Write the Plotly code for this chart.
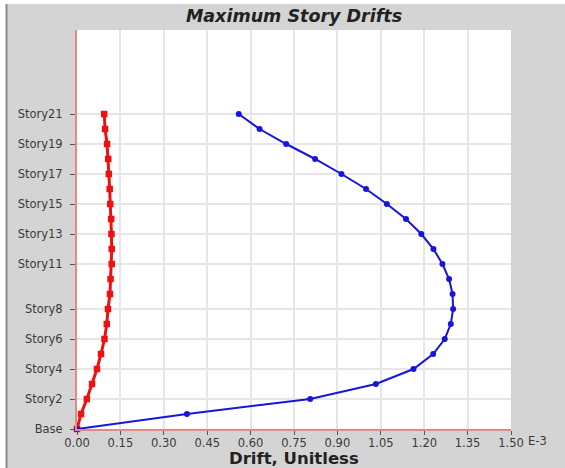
import plotly.graph_objects as go

stories = list(range(0, 22))  # 0 = Base, 1..21 = Story1..Story21
tick_vals = [0, 2, 4, 6, 8, 11, 13, 15, 17, 19, 21]
tick_text = ["Base", "Story2", "Story4", "Story6", "Story8", "Story11",
             "Story13", "Story15", "Story17", "Story19", "Story21"]

drift_red = [0.0, 0.014, 0.034, 0.052, 0.069, 0.083, 0.095, 0.103, 0.107, 0.114,
             0.116, 0.120, 0.120, 0.119, 0.118, 0.115, 0.113, 0.110, 0.108,
             0.104, 0.097, 0.094]
drift_blue = [0.0, 0.380, 0.806, 1.033, 1.163, 1.231, 1.271, 1.292, 1.300, 1.298,
              1.286, 1.263, 1.232, 1.190, 1.137, 1.071, 0.999, 0.914, 0.823,
              0.723, 0.631, 0.559]

x_ticks = [0.0, 0.15, 0.30, 0.45, 0.60, 0.75, 0.90, 1.05, 1.20, 1.35, 1.50]
x_tick_text = ["%.2f" % v for v in x_ticks]
x_title = "Drift, Unitless"
x_unit = "E-3"

fig = go.Figure()
fig.add_trace(go.Scatter(
    x=drift_red, y=stories, mode="lines+markers",
    line=dict(color="#ee1111", width=3),
    marker=dict(symbol="square", size=6.5, color="#ee1111"),
    cliponaxis=False, showlegend=False))
fig.add_trace(go.Scatter(
    x=drift_blue, y=stories, mode="lines+markers",
    line=dict(color="#1515dd", width=2),
    marker=dict(symbol="circle", size=6, color="#1515dd"),
    cliponaxis=False, showlegend=False))

fig.update_layout(
    width=565, height=468,
    margin=dict(l=77, r=54, t=30, b=39, autoexpand=False),
    paper_bgcolor="#d4d4d4",
    plot_bgcolor="white",
    font=dict(family="DejaVu Sans, sans-serif", size=11.5, color="#3a3a3a"),
    title=dict(text="<b><i>Maximum Story Drifts</i></b>", x=0.5, xref="paper",
               xanchor="center",
               y=1, yref="paper", yanchor="bottom", pad=dict(b=8),
               font=dict(family="DejaVu Sans, sans-serif", size=17.5, color="#222222")),
    xaxis=dict(range=[0, 1.5], tickvals=x_ticks, ticktext=x_tick_text,
               showgrid=True, gridcolor="#e6e6e6", gridwidth=2,
               showline=True, linecolor="#e08a8a", linewidth=2,
               ticks="outside", ticklen=4, tickcolor="#555555",
               ticklabelstandoff=-2,
               zeroline=False, fixedrange=True, automargin=False),
    yaxis=dict(range=[0, 26.6], tickvals=tick_vals, ticktext=tick_text,
               showgrid=True, gridcolor="#e6e6e6", gridwidth=2,
               showline=True, linecolor="#e08a8a", linewidth=2,
               ticks="outside", ticklen=5, tickcolor="#555555",
               ticklabelstandoff=5,
               tickfont=dict(size=11.5),
               zeroline=False, fixedrange=True, automargin=False),
)

fig.add_annotation(x=0.5, y=0, xref="paper", yref="paper",
                   text="<b>%s</b>" % x_title,
                   showarrow=False, xanchor="center", yanchor="top",
                   yshift=-19, borderpad=0,
                   font=dict(family="DejaVu Sans, sans-serif", size=16.5, color="#222222"))

fig.add_annotation(x=1.5, y=0, xref="x", yref="paper", text=x_unit,
                   showarrow=False, xanchor="left", yanchor="middle",
                   xshift=15, yshift=-12, font=dict(size=11.5, color="#3a3a3a"))

# window frame details
fig.add_shape(type="rect", xref="paper", yref="paper",
              x0=-77/434, x1=-71/434, y0=-39/399, y1=1 + 30/399,
              fillcolor="white", line=dict(width=0), layer="below")
fig.add_shape(type="line", xref="paper", yref="paper",
              x0=-70.5/434, x1=-70.5/434, y0=-39/399, y1=1 + 26/399,
              line=dict(color="#8a8a8a", width=2))
fig.add_shape(type="rect", xref="paper", yref="paper",
              x0=-77/434, x1=1 + 54/434, y0=1 + 26/399, y1=1 + 30/399,
              fillcolor="white", line=dict(width=0), layer="below")

fig.write_html("out.html", config={"displayModeBar": False},
               post_script="document.body.style.margin='0';document.body.style.overflow='hidden';")
